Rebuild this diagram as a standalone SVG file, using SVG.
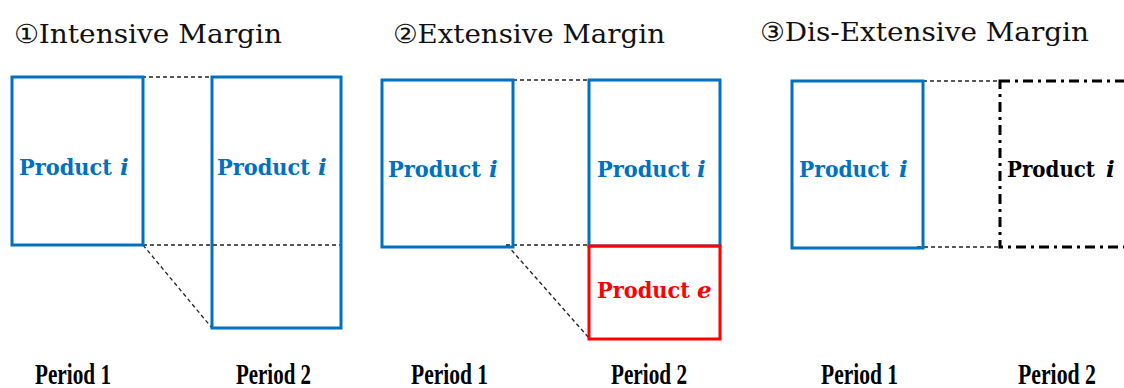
<svg xmlns="http://www.w3.org/2000/svg" width="1124" height="388" viewBox="0 0 1124 388">
  <style>
    .title { font-family: "DejaVu Serif", "Liberation Serif", serif; font-size: 26px; fill: #111; }
    .prod { font-family: "DejaVu Serif", "Liberation Serif", serif; font-size: 23px; font-weight: bold; }
    .var { font-style: italic; }
    .blue { fill: #0070C0; }
    .red { fill: #FF0000; }
    .black { fill: #000; }
    .box { fill: none; stroke: #0070C0; stroke-width: 3; }
    .box-new { fill: none; stroke: #FF0000; stroke-width: 3; }
    .box-gone { fill: none; stroke: #000; stroke-width: 3; stroke-dasharray: 10 5 3 5; }
    .guide { fill: none; stroke: #222; stroke-width: 1.3; stroke-dasharray: 4 3; }
    .period { font-family: "Liberation Serif", "DejaVu Serif", serif; font-size: 30px; font-weight: bold; fill: #000; }
  </style>

  <!-- panel headings -->
  <text class="title" x="14" y="43" textLength="268" lengthAdjust="spacingAndGlyphs">①Intensive Margin</text>
  <text class="title" x="393" y="43" textLength="272" lengthAdjust="spacingAndGlyphs">②Extensive Margin</text>
  <text class="title" x="760" y="41" textLength="329" lengthAdjust="spacingAndGlyphs">③Dis-Extensive Margin</text>

  <!-- guide lines between periods -->
  <g id="connectors">
    <line class="guide" x1="128" y1="77" x2="212" y2="77"/>
    <line class="guide" x1="143" y1="245" x2="340" y2="245"/>
    <line class="guide" x1="143" y1="245" x2="212" y2="328"/>

    <line class="guide" x1="513" y1="80" x2="589" y2="80"/>
    <line class="guide" x1="506" y1="245" x2="589" y2="245"/>
    <line class="guide" x1="507" y1="245" x2="589" y2="338"/>

    <line class="guide" x1="923" y1="81" x2="1000" y2="81"/>
    <line class="guide" x1="917" y1="247" x2="1000" y2="247"/>
  </g>

  <!-- ① intensive margin -->
  <g id="intensive-p1">
    <rect class="box" x="12" y="77" width="131" height="168"/>
    <text class="prod blue" x="19" y="175" textLength="93" lengthAdjust="spacingAndGlyphs">Product</text>
    <text class="prod blue var" x="120" y="175">i</text>
  </g>
  <g id="intensive-p2">
    <rect class="box" x="212" y="77" width="129" height="251"/>
    <text class="prod blue" x="217" y="175" textLength="93" lengthAdjust="spacingAndGlyphs">Product</text>
    <text class="prod blue var" x="318" y="175">i</text>
  </g>

  <!-- ② extensive margin -->
  <g id="extensive-p1">
    <rect class="box" x="382" y="80" width="131" height="167"/>
    <text class="prod blue" x="388" y="177" textLength="93" lengthAdjust="spacingAndGlyphs">Product</text>
    <text class="prod blue var" x="489" y="177">i</text>
  </g>
  <g id="extensive-p2">
    <rect class="box" x="589" y="80" width="131" height="166"/>
    <text class="prod blue" x="597" y="177" textLength="93" lengthAdjust="spacingAndGlyphs">Product</text>
    <text class="prod blue var" x="697" y="177">i</text>
  </g>
  <g id="extensive-new">
    <rect class="box-new" x="589" y="246" width="131" height="93"/>
    <text class="prod red" x="597" y="298" textLength="93" lengthAdjust="spacingAndGlyphs">Product</text>
    <text class="prod red var" x="697" y="298">e</text>
  </g>

  <!-- ③ dis-extensive margin -->
  <g id="disextensive-p1">
    <rect class="box" x="792" y="81" width="131" height="167"/>
    <text class="prod blue" x="799" y="177" textLength="90" lengthAdjust="spacingAndGlyphs">Product</text>
    <text class="prod blue var" x="899" y="177">i</text>
  </g>
  <g id="disextensive-p2">
    <rect class="box-gone" x="1000" y="81" width="160" height="166"/>
    <text class="prod black" x="1007" y="177" textLength="88" lengthAdjust="spacingAndGlyphs">Product</text>
    <text class="prod black var" x="1106" y="177">i</text>
  </g>

  <!-- period labels -->
  <g id="periods">
    <text class="period" x="35" y="384" textLength="76" lengthAdjust="spacingAndGlyphs">Period 1</text>
    <text class="period" x="236" y="384" textLength="75" lengthAdjust="spacingAndGlyphs">Period 2</text>
    <text class="period" x="411" y="384" textLength="77" lengthAdjust="spacingAndGlyphs">Period 1</text>
    <text class="period" x="611" y="384" textLength="76" lengthAdjust="spacingAndGlyphs">Period 2</text>
    <text class="period" x="821" y="384" textLength="77" lengthAdjust="spacingAndGlyphs">Period 1</text>
    <text class="period" x="1018" y="384" textLength="78" lengthAdjust="spacingAndGlyphs">Period 2</text>
  </g>
</svg>
